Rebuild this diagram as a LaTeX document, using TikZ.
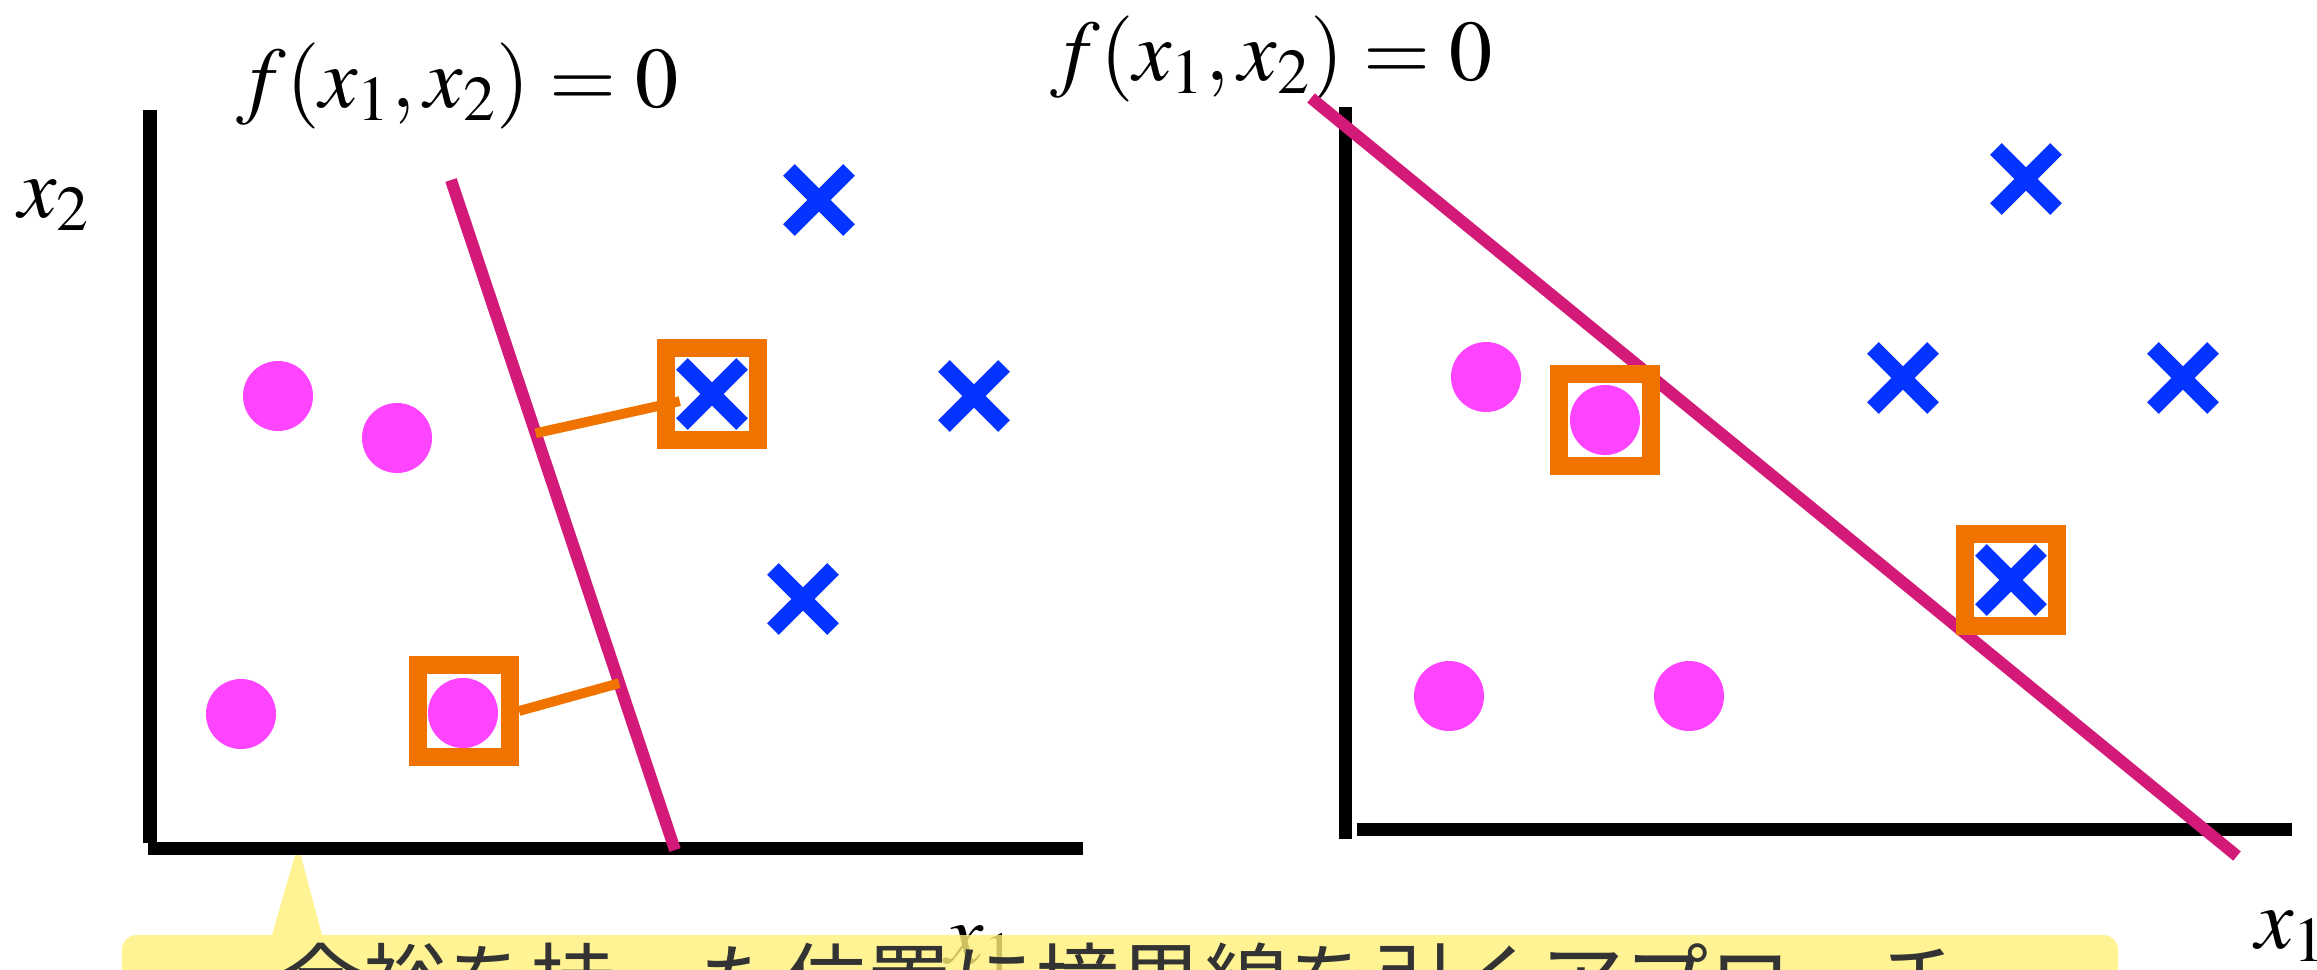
\documentclass[tikz,border=0pt]{standalone}
\usepackage{mathptmx}
\usepackage{fontspec}
\newfontfamily\jpfont{Noto Sans CJK JP}
\usetikzlibrary{shapes.misc,calc}
\definecolor{dotpink}{RGB}{255,68,255}
\definecolor{crossblue}{RGB}{5,51,255}
\definecolor{bordermag}{RGB}{211,26,120}
\definecolor{svorange}{RGB}{240,115,0}
\definecolor{noteyellow}{RGB}{255,240,120}
\definecolor{notegray}{RGB}{51,51,51}
\begin{document}
\begin{tikzpicture}[x=0.01cm,y=-0.01cm,
  axis/.style={line width=3.7pt},
  boundary/.style={line width=3.4pt,bordermag},
  margin/.style={line width=2.8pt,svorange},
  dot/.style={circle,fill=dotpink,minimum size=0.7cm,inner sep=0pt},
  xmark/.style={cross out,draw=crossblue,line width=4.7pt,minimum size=0.6cm,inner sep=0pt,outer sep=0pt},
  svbox/.style={draw=svorange,line width=5.1pt,minimum size=0.92cm,inner sep=0pt},
  lab/.style={anchor=base west,inner sep=0pt,font=\fontsize{24.5}{29}\selectfont}]
\useasboundingbox (0,0) rectangle (2317,969);
% labels
\node[lab] (fL) at (236,107) {$f(x_1,x_2)=0$};
\node[lab] (fR) at (1050,80) {$f(x_1,x_2)=0$};
\node[lab] (x2L) at (18,217) {$x_2$};
\node[lab] (x1L) at (945,963) {$x_1$};
\node[lab] (x1R) at (2255,948) {$x_1$};
% callout
\coordinate (tip) at (298,845);
\node[anchor=north,outer sep=0pt,inner xsep=0pt,inner ysep=0.08cm,minimum width=19.95cm,
  rounded corners=0.15cm,fill=noteyellow,fill opacity=0.8,text opacity=1,text=notegray,
  font=\jpfont\fontsize{23.9}{28}\selectfont] (note) at (1120,935) {余裕を持った位置に境界線を引くアプローチ};
\fill[noteyellow,fill opacity=0.8] ([xshift=1.5cm]note.north west) -- (tip) -- ([xshift=2cm]note.north west) -- cycle;
% left panel
\draw[axis] (150,110) -- (150,843);
\draw[axis] (148,848) -- (1083,848);
\coordinate (bl1) at (451,180);
\coordinate (bl2) at (675,850);
\draw[boundary] (bl1) -- (bl2);
\node[dot] (pa) at (278,396) {};
\node[dot] (pb) at (397,438) {};
\node[dot] (pc) at (241,714) {};
\node[dot] (pd) at (463,713) {};
\node[xmark] (qa) at (819,200) {};
\node[xmark] (qb) at (974,396) {};
\node[xmark] (qc) at (803,599) {};
\node[xmark] (qd) at (712,394) {};
\node[svbox] (sv1) at (qd) {};
\node[svbox] (sv2) at (464,711) {};
\coordinate (m1) at ($(bl1)!0.378!(bl2)$);
\coordinate (m2) at ($(bl1)!0.751!(bl2)$);
\draw[margin,shorten >=0.33cm] (m1) -- (sv1.center);
\draw[margin] (sv2.east) -- (m2);
% right panel
\draw[axis] (1345,107) -- (1345,839);
\draw[axis] (1357,829) -- (2292,829);
\coordinate (br1) at (1311,98);
\coordinate (br2) at (2237,856);
\draw[boundary] (br1) -- (br2);
\node[dot] (ra) at (1486,377) {};
\node[dot] (rb) at (1605,420) {};
\node[dot] (rc) at (1449,696) {};
\node[dot] (rd) at (1689,696) {};
\node[xmark] (sa) at (2026,179) {};
\node[xmark] (sb) at (1903,378) {};
\node[xmark] (sc) at (2183,378) {};
\node[xmark] (sd) at (2011,580) {};
\node[svbox] (sv3) at (rb) {};
\node[svbox] (sv4) at (sd) {};
\end{tikzpicture}
\end{document}
